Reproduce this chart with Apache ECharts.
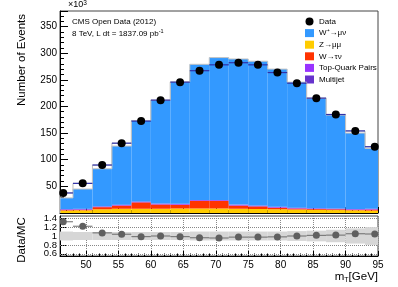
<!DOCTYPE html>
<html><head><meta charset="utf-8">
<script src="https://cdn.jsdelivr.net/npm/echarts@6/dist/echarts.min.js"></script>
<style>html,body{margin:0;padding:0;background:#fff}#c{width:398px;height:287px}</style>
</head><body><div id="c"></div>
<script>
// ---- data (thousands of events per 3 GeV bin) ----
const binCenters = [46.5,49.5,52.5,55.5,58.5,61.5,64.5,67.5,70.5,73.5,76.5,79.5,82.5,85.5,88.5,91.5,94.5];
const binWidth = 3;
const dataCounts = [37.6,55.6,90,131,172.4,211.7,245.5,267,278,282,278,263.5,243.6,215.5,184.8,154,124.3];
const zmumu    = [4.5,5,7,8,8,8,8.5,8.5,8.5,8,7.5,7,6.5,6,5.5,5,4.5];
const wtaunu   = [1,1,4,6,12,8,7,14,14,6,5,3,2,1.5,1.5,1,2];
const topPairs = [1,1,1,1.2,1.3,1.3,1.3,1.3,1.3,1.3,1.2,1.2,1,1,1,1,1];
const multijet = [0.8,0.8,0.6,0.5,0.5,0.5,0.5,0.5,0.5,0.5,0.5,0.5,0.5,0.5,0.5,0.5,0.5];
const wmunu    = [21.0,37.2,70.4,109.9,151.8,193.9,228.7,254.7,267.3,273.2,270.6,258.3,235.5,205.8,175.2,142.5,113];
const ratio    = [1.32,1.22,1.07,1.04,0.985,1.0,0.985,0.96,0.955,0.975,0.975,0.98,1.0,1.015,1.02,1.05,1.045];
const bandHalf = [0.10,0.09,0.09,0.09,0.09,0.09,0.09,0.10,0.10,0.10,0.10,0.10,0.11,0.12,0.14,0.17,0.20];
const xTicks = [50,55,60,65,70,75,80,85,90,95];
const yTicks = [50,100,150,200,250,300,350];
const ratioTicks = [0.6,0.8,1,1.2,1.4];
const ratioTicksA = [0.6,1,1.4];
const ratioTicksB = [0.8,1.2];

const FONT = 'Liberation Sans, Arial, Helvetica, sans-serif';

function csRect(params){ const c=params.coordSys; return {x:c.x,y:c.y,width:c.width,height:c.height}; }
function rectRender(color){
  return function(params, api){
    const c=api.value(0), b=api.value(1), t=api.value(2);
    const p0=api.coord([c-binWidth/2, t]); const p1=api.coord([c+binWidth/2, b]);
    const shape=echarts.graphic.clipRectByRect({x:p0[0],y:p0[1],width:p1[0]-p0[0],height:p1[1]-p0[1]}, csRect(params));
    return shape && {type:'rect', shape, style:{fill:color}};
  };
}
function stepRender(vals, color, lw){
  return function(params, api){
    const i=params.dataIndex, c=api.value(0);
    const cs=params.coordSys;
    const cx=x=>Math.max(cs.x, Math.min(cs.x+cs.width, x));
    const prev = i>0 ? vals[i-1] : 0;
    const pL=api.coord([c-binWidth/2, vals[i]]), pR=api.coord([c+binWidth/2, vals[i]]);
    const pP=api.coord([c-binWidth/2, prev]);
    const pts=[[cx(pL[0]),pP[1]],[cx(pL[0]),pL[1]],[cx(pR[0]),pR[1]]];
    return {type:'polyline', shape:{points:pts}, style:{stroke:color, lineWidth:lw, fill:null}};
  };
}
function hbarRender(color, lw){
  return function(params, api){
    const c=api.value(0), v=api.value(1);
    const cs=params.coordSys;
    const cx=x=>Math.max(cs.x, Math.min(cs.x+cs.width, x));
    const pL=api.coord([c-binWidth/2, v]), pR=api.coord([c+binWidth/2, v]);
    return {type:'line', shape:{x1:cx(pL[0]),y1:pL[1],x2:cx(pR[0]),y2:pR[1]}, style:{stroke:color, lineWidth:lw}};
  };
}

const layers = [
  {name:'Z→μμ', vals:zmumu, color:'#ffcc00'},
  {name:'W→τν', vals:wtaunu, color:'#ff3300'},
  {name:'Top-Quark Pairs', vals:topPairs, color:'#9933ff'},
  {name:'Multijet', vals:multijet, color:'#6633cc'},
  {name:'W⁺→μν', vals:wmunu, color:'#3399ff'}
];
const cum = binCenters.map(()=>0);
const stackSeries = layers.map(L=>{
  const data = binCenters.map((c,i)=>{ const b=cum[i]; const t=b+L.vals[i]; cum[i]=t; return [c,b,t]; });
  return {type:'custom', name:L.name, xAxisIndex:0, yAxisIndex:0, z:3, itemStyle:{color:L.color},
          renderItem:rectRender(L.color), data, encode:{x:0,y:[1,2]}, silent:true};
});
const mcTop = cum.slice();

const chart = echarts.init(document.getElementById('c'));
const axisCommon = {axisLine:{show:true,lineStyle:{color:'#000',width:1}}, splitLine:{show:false}};
const ratioLabel = {fontSize:9.5, fontFamily:FONT, color:'#000', margin:3, hideOverlap:false,
  formatter:v=>String(Math.round(v*10)/10)};
chart.setOption({
  animation:false,
  grid:[
    {left:60, top:11, width:318, height:202, show:true, borderColor:'#444', borderWidth:1},
    {left:60, top:216, width:318, height:40, show:true, borderColor:'#444', borderWidth:1}
  ],
  xAxis:[
    Object.assign({type:'value', gridIndex:0, min:46, max:95, splitNumber:10,
      axisLabel:{show:false},
      axisTick:{inside:true, length:6, customValues:xTicks, lineStyle:{color:'#000'}},
      minorTick:{show:true, splitNumber:5, length:3, lineStyle:{color:'#000'}}}, axisCommon),
    Object.assign({type:'value', gridIndex:1, min:46, max:95, splitNumber:10,
      axisLabel:{fontSize:10, fontFamily:FONT, color:'#000', margin:4, customValues:xTicks, hideOverlap:false},
      axisTick:{inside:true, length:5, customValues:xTicks, lineStyle:{color:'#000'}},
      minorTick:{show:true, splitNumber:5, length:2.5, lineStyle:{color:'#000'}}}, axisCommon,
      {splitLine:{show:true, lineStyle:{type:'dotted', color:'#888', width:1}}})
  ],
  yAxis:[
    Object.assign({type:'value', gridIndex:0, min:0, max:379, interval:50,
      axisLabel:{fontSize:10, fontFamily:FONT, color:'#000', margin:3, customValues:yTicks},
      axisTick:{inside:true, length:8, lineStyle:{color:'#000'}},
      minorTick:{show:true, splitNumber:5, length:4, lineStyle:{color:'#000'}}}, axisCommon),
    Object.assign({type:'value', gridIndex:1, min:0.55, max:1.45, interval:0.05, position:'left', offset:0,
      axisLabel:Object.assign({customValues:ratioTicksA}, ratioLabel),
      axisTick:{inside:true, length:6, customValues:ratioTicks, lineStyle:{color:'#000'}}}, axisCommon),
    {type:'value', gridIndex:1, min:0.55, max:1.45, interval:0.05, position:'left', offset:0,
      axisLine:{show:false}, axisTick:{show:false}, splitLine:{show:false},
      axisLabel:Object.assign({customValues:ratioTicksB}, ratioLabel)}
  ],
  legend:{
    orient:'vertical', left:305, top:17.5, padding:0, itemGap:3.6, itemWidth:9, itemHeight:8,
    textStyle:{fontSize:8, fontFamily:FONT, color:'#000'},
    selectedMode:false,
    data:[{name:'Data', icon:'circle', itemStyle:{color:'#000', opacity:1}},{name:'W⁺→μν', icon:'rect'},{name:'Z→μμ', icon:'rect'},
          {name:'W→τν', icon:'rect'},{name:'Top-Quark Pairs', icon:'rect'},{name:'Multijet', icon:'rect'}]
  },
  graphic:[
    {type:'text', left:68, top:0, style:{rich:{a:{fontSize:9,fontFamily:FONT,fill:'#000'},b:{fontSize:6.5,fontFamily:FONT,fill:'#000',verticalAlign:'top'}}, text:'{a|×10}{b|3}', fill:'#000'}},
    {type:'text', x:72, y:22, style:{text:'CMS Open Data (2012)', font:'8px '+FONT, fill:'#000', textVerticalAlign:'middle'}},
    {type:'text', x:72, y:34, style:{rich:{a:{fontSize:8,fontFamily:FONT,fill:'#000'},s:{fontSize:5.5,fontFamily:FONT,fill:'#000',padding:[0,0,5,0]}}, text:'{a|8 TeV, L dt = 1837.09 pb}{s|-1}', textVerticalAlign:'middle'}},
    {type:'text', x:22, y:60, rotation:Math.PI/2, style:{text:'Number of Events', font:'11.5px '+FONT, fill:'#000', textAlign:'center', textVerticalAlign:'middle'}},
    {type:'text', x:22, y:240, rotation:Math.PI/2, style:{text:'Data/MC', font:'11.5px '+FONT, fill:'#000', textAlign:'center', textVerticalAlign:'middle'}},
    {type:'text', right:20, top:271, style:{rich:{a:{fontSize:11.5,fontFamily:FONT,fill:'#000'},s:{fontSize:7,fontFamily:FONT,fill:'#000',padding:[6,0,0,0]}}, text:'{a|m}{s|T}{a|[GeV]}'}}
  ],
  series:[
    {type:'custom', name:'dataOutline', xAxisIndex:0, yAxisIndex:0, z:2, silent:true,
     renderItem:stepRender(dataCounts,'#bdbdbd',1), data:binCenters.map((c,i)=>[c,dataCounts[i]]), encode:{x:0,y:1}},
    ...stackSeries,
    {type:'custom', name:'mcOutline', xAxisIndex:0, yAxisIndex:0, z:4, silent:true,
     renderItem:stepRender(mcTop,'#c4c4c4',1), data:binCenters.map((c,i)=>[c,mcTop[i]]), encode:{x:0,y:1}},
    {type:'custom', name:'dataErr', xAxisIndex:0, yAxisIndex:0, z:5, silent:true,
     renderItem:hbarRender('#3030a8',1.2), data:binCenters.map((c,i)=>[c,dataCounts[i]]), encode:{x:0,y:1}},
    {type:'scatter', name:'Data', xAxisIndex:0, yAxisIndex:0, z:6, symbol:'circle', symbolSize:8,
     itemStyle:{color:'#000', opacity:1}, data:binCenters.map((c,i)=>[c,dataCounts[i]]), silent:true},
    // ratio panel
    {type:'custom', name:'band', xAxisIndex:1, yAxisIndex:1, z:2, silent:true,
     renderItem:rectRender('#d6d6d6'), data:binCenters.map((c,i)=>[c,1-bandHalf[i],1+bandHalf[i]]), encode:{x:0,y:[1,2]}},
    {type:'custom', name:'ratioErr', xAxisIndex:1, yAxisIndex:1, z:4, silent:true,
     renderItem:hbarRender('#6a6a6a',1), data:binCenters.map((c,i)=>[c,ratio[i]]), encode:{x:0,y:1}},
    {type:'scatter', name:'ratio', xAxisIndex:1, yAxisIndex:1, z:5, symbol:'circle', symbolSize:7,
     itemStyle:{color:'#606060', opacity:1}, data:binCenters.map((c,i)=>[c,ratio[i]]), silent:true,
     markLine:{silent:true, symbol:'none', label:{show:false}, z:1,
       lineStyle:{type:'dotted', color:'#888', width:1},
       data:ratioTicks.filter(v=>v!==1).map(v=>({yAxis:v}))}}
  ]
});
</script></body></html>
